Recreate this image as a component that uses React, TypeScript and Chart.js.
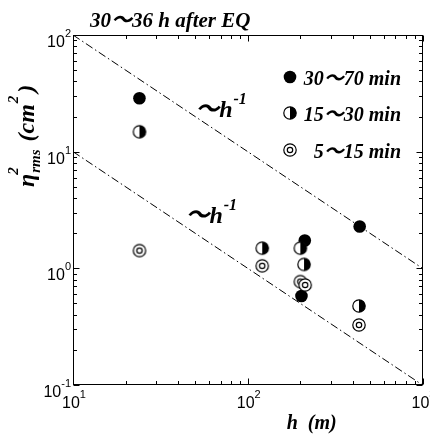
import React, { useEffect, useRef } from 'react';
import { Chart, registerables } from 'chart.js';

Chart.register(...registerables);

// ---- data ----
const hCoarse = [24, 212, 203, 437];
const etaCoarse = [28.7, 1.73, 0.58, 2.28];
const hMid = [24, 121, 200, 210, 433];
const etaMid = [14.8, 1.49, 1.49, 1.08, 0.476];
const hFine = [24, 121, 200, 213, 433];
const etaFine = [1.42, 1.05, 0.77, 0.72, 0.327];

const refUpperH = [10, 1000];
const refUpperEta = [100, 1];
const refLowerH = [10, 1000];
const refLowerEta = [10, 0.1];

const seriesLabels = ['30～70 min', '15～30 min', '5～15 min'];
const titleText = '30～36 h after EQ';
const xTitleText = 'h  (m)';
const slopeBase = '～h';
const slopeExp = '-1';
const slopeAnchorH = [50, 44];
const slopeAnchorEta = [20, 2.45];

const xDecades = [10, 100, 1000];
const xExps = ['1', '2', '3'];
const yDecades = [0.1, 1, 10, 100];
const yExps = ['-1', '0', '1', '2'];
const minorMults = [2, 3, 4, 5, 6, 7, 8, 9];

const SERIF = (px: number) => `italic bold ${px}px "Liberation Serif", "Noto Sans CJK JP", serif`;
const SANS = (px: number) => `${px}px "Liberation Sans", Arial, sans-serif`;

function makeHalf(): HTMLCanvasElement {
  const c = document.createElement('canvas');
  c.width = 16; c.height = 16;
  const g = c.getContext('2d')!;
  g.lineWidth = 1.2;
  g.beginPath(); g.arc(8, 8, 6.2, 0, Math.PI * 2);
  g.fillStyle = '#fff'; g.fill(); g.strokeStyle = '#000'; g.stroke();
  g.beginPath(); g.moveTo(8, 8 - 6.2); g.arc(8, 8, 6.2, -Math.PI / 2, Math.PI / 2); g.closePath();
  g.fillStyle = '#000'; g.fill();
  return c;
}

function makeDouble(): HTMLCanvasElement {
  const c = document.createElement('canvas');
  c.width = 16; c.height = 16;
  const g = c.getContext('2d')!;
  g.lineWidth = 1.2;
  g.beginPath(); g.arc(8, 8, 6.2, 0, Math.PI * 2);
  g.fillStyle = '#fff'; g.fill(); g.strokeStyle = '#000'; g.stroke();
  g.beginPath(); g.arc(8, 8, 2.7, 0, Math.PI * 2); g.stroke();
  return c;
}

const pts = (xs: number[], ys: number[]) => xs.map((x, i) => ({ x, y: ys[i] }));

export default function App() {
  const ref = useRef<HTMLCanvasElement>(null);

  useEffect(() => {
    const half = makeHalf();
    const dbl = makeDouble();

    const drawPow = (ctx: CanvasRenderingContext2D, exp: string, x: number, yBase: number, align: 'center' | 'right') => {
      ctx.font = SANS(16);
      const wb = ctx.measureText('10').width;
      ctx.font = SANS(11);
      const we = ctx.measureText(exp).width;
      const total = wb + we;
      const x0 = align === 'center' ? x - total / 2 : x - total;
      ctx.textAlign = 'left';
      ctx.font = SANS(16);
      ctx.fillText('10', x0, yBase);
      ctx.font = SANS(11);
      ctx.fillText(exp, x0 + wb, yBase - 10);
    };

    const decor = {
      id: 'decor',
      afterDraw(chart: any) {
        const ctx: CanvasRenderingContext2D = chart.ctx;
        const { left, right, top, bottom } = chart.chartArea;
        const xs = chart.scales.x;
        const ys = chart.scales.y;
        ctx.save();
        ctx.strokeStyle = '#000';
        ctx.fillStyle = '#000';
        ctx.lineWidth = 1;
        const L = Math.round(left) + 0.5, R = Math.round(right) - 0.5;
        const T = Math.round(top) + 0.5, B = Math.round(bottom) - 0.5;
        ctx.strokeRect(L, T, R - L, B - T);

        // ticks
        ctx.beginPath();
        xDecades.forEach((d) => {
          [1, ...minorMults].forEach((m) => {
            const v = d * m;
            if (v < xs.min - 1e-9 || v > xs.max + 1e-9) return;
            const len = m === 1 ? 6 : 3.5;
            const p = Math.round(xs.getPixelForValue(v)) + 0.5;
            ctx.moveTo(p, B); ctx.lineTo(p, B - len);
            ctx.moveTo(p, T); ctx.lineTo(p, T + len);
          });
        });
        yDecades.forEach((d) => {
          [1, ...minorMults].forEach((m) => {
            const v = d * m;
            if (v < ys.min * 0.999 || v > ys.max * 1.001) return;
            const len = m === 1 ? 6 : 3.5;
            const p = Math.round(ys.getPixelForValue(v)) + 0.5;
            ctx.moveTo(L, p); ctx.lineTo(L + len, p);
            ctx.moveTo(R, p); ctx.lineTo(R - len, p);
          });
        });
        ctx.stroke();

        // tick labels
        xDecades.forEach((d, i) => {
          drawPow(ctx, xExps[i], xs.getPixelForValue(d) + 1, bottom + 23, 'center');
        });
        yDecades.forEach((d, i) => {
          drawPow(ctx, yExps[i], left - 2, ys.getPixelForValue(d) + 12, 'right');
        });

        // title
        ctx.textAlign = 'left';
        ctx.font = SERIF(21);
        ctx.fillText(titleText, left + 17, top - 8);

        // x title
        ctx.font = SERIF(20);
        ctx.textAlign = 'center';
        ctx.fillText(xTitleText, (left + right) / 2 + 64, bottom + 44);

        // y title (rotated)
        ctx.save();
        ctx.translate(left - 39, top + 152);
        ctx.rotate(-Math.PI / 2);
        ctx.textAlign = 'left';
        let cx = 0;
        ctx.font = SERIF(24);
        ctx.fillText('η', cx, 0);
        cx += ctx.measureText('η').width;
        ctx.font = SERIF(15);
        ctx.fillText('2', cx - 1, -16);
        ctx.fillText('rms', cx + 1, 6);
        cx += ctx.measureText('rms').width + 9;
        ctx.font = SERIF(24);
        ctx.fillText('(cm', cx, 0);
        cx += ctx.measureText('(cm').width;
        ctx.font = SERIF(15);
        ctx.fillText('2', cx + 1, -16);
        cx += ctx.measureText('2').width + 4;
        ctx.font = SERIF(24);
        ctx.fillText(')', cx, 0);
        ctx.restore();

        // slope annotations
        slopeAnchorH.forEach((h, i) => {
          const px = xs.getPixelForValue(h);
          const py = ys.getPixelForValue(slopeAnchorEta[i]);
          ctx.textAlign = 'left';
          ctx.font = SERIF(24);
          ctx.fillText(slopeBase, px, py);
          const w = ctx.measureText(slopeBase).width;
          ctx.font = SERIF(16);
          ctx.fillText(slopeExp, px + w + 1, py - 13);
        });

        // legend
        const lx = left + 217;
        const rows = [top + 42, top + 78, top + 115];
        const textRight = left + 328;
        rows.forEach((ry, i) => {
          if (i === 0) {
            ctx.beginPath(); ctx.arc(lx, ry, 6.3, 0, Math.PI * 2); ctx.fill();
          } else {
            const img = i === 1 ? half : dbl;
            ctx.drawImage(img, lx - img.width / 2, ry - img.height / 2);
          }
          ctx.font = SERIF(20);
          ctx.textAlign = 'right';
          ctx.fillText(seriesLabels[i], textRight, ry + 8);
        });

        ctx.restore();
      },
    };

    const chart = new Chart(ref.current!, {
      type: 'scatter',
      data: {
        datasets: [
          {
            label: seriesLabels[2],
            data: pts(hFine, etaFine),
            pointStyle: dbl as any,
            pointRadius: 6.5,
            order: 1,
          },
          {
            label: seriesLabels[1],
            data: pts(hMid, etaMid),
            pointStyle: half as any,
            pointRadius: 6.5,
            order: 2,
          },
          {
            label: seriesLabels[0],
            data: pts(hCoarse, etaCoarse),
            pointStyle: 'circle',
            pointRadius: 6.3,
            backgroundColor: '#000',
            borderColor: '#000',
            borderWidth: 0,
            order: 3,
          },
          {
            label: 'upper ~h^-1',
            data: pts(refUpperH, refUpperEta),
            showLine: true,
            pointRadius: 0,
            borderColor: '#000',
            borderWidth: 1,
            borderDash: [8, 3, 1.5, 3],
            order: 4,
          },
          {
            label: 'lower ~h^-1',
            data: pts(refLowerH, refLowerEta),
            showLine: true,
            pointRadius: 0,
            borderColor: '#000',
            borderWidth: 1,
            borderDash: [8, 3, 1.5, 3],
            order: 5,
          },
        ] as any,
      },
      options: {
        responsive: false,
        animation: false,
        devicePixelRatio: 1,
        layout: { padding: { left: 73, top: 35, right: 7, bottom: 49 } },
        scales: {
          x: { type: 'logarithmic', min: 10, max: 1000, display: false },
          y: { type: 'logarithmic', min: 0.1, max: 100, display: false },
        },
        plugins: { legend: { display: false }, tooltip: { enabled: false } },
      },
      plugins: [decor],
    });
    return () => chart.destroy();
  }, []);

  return (
    <div style={{ position: 'absolute', left: 0, top: 0, width: 430, height: 434, background: '#fff' }}>
      <canvas ref={ref} width={430} height={434} style={{ display: 'block' }} />
    </div>
  );
}
